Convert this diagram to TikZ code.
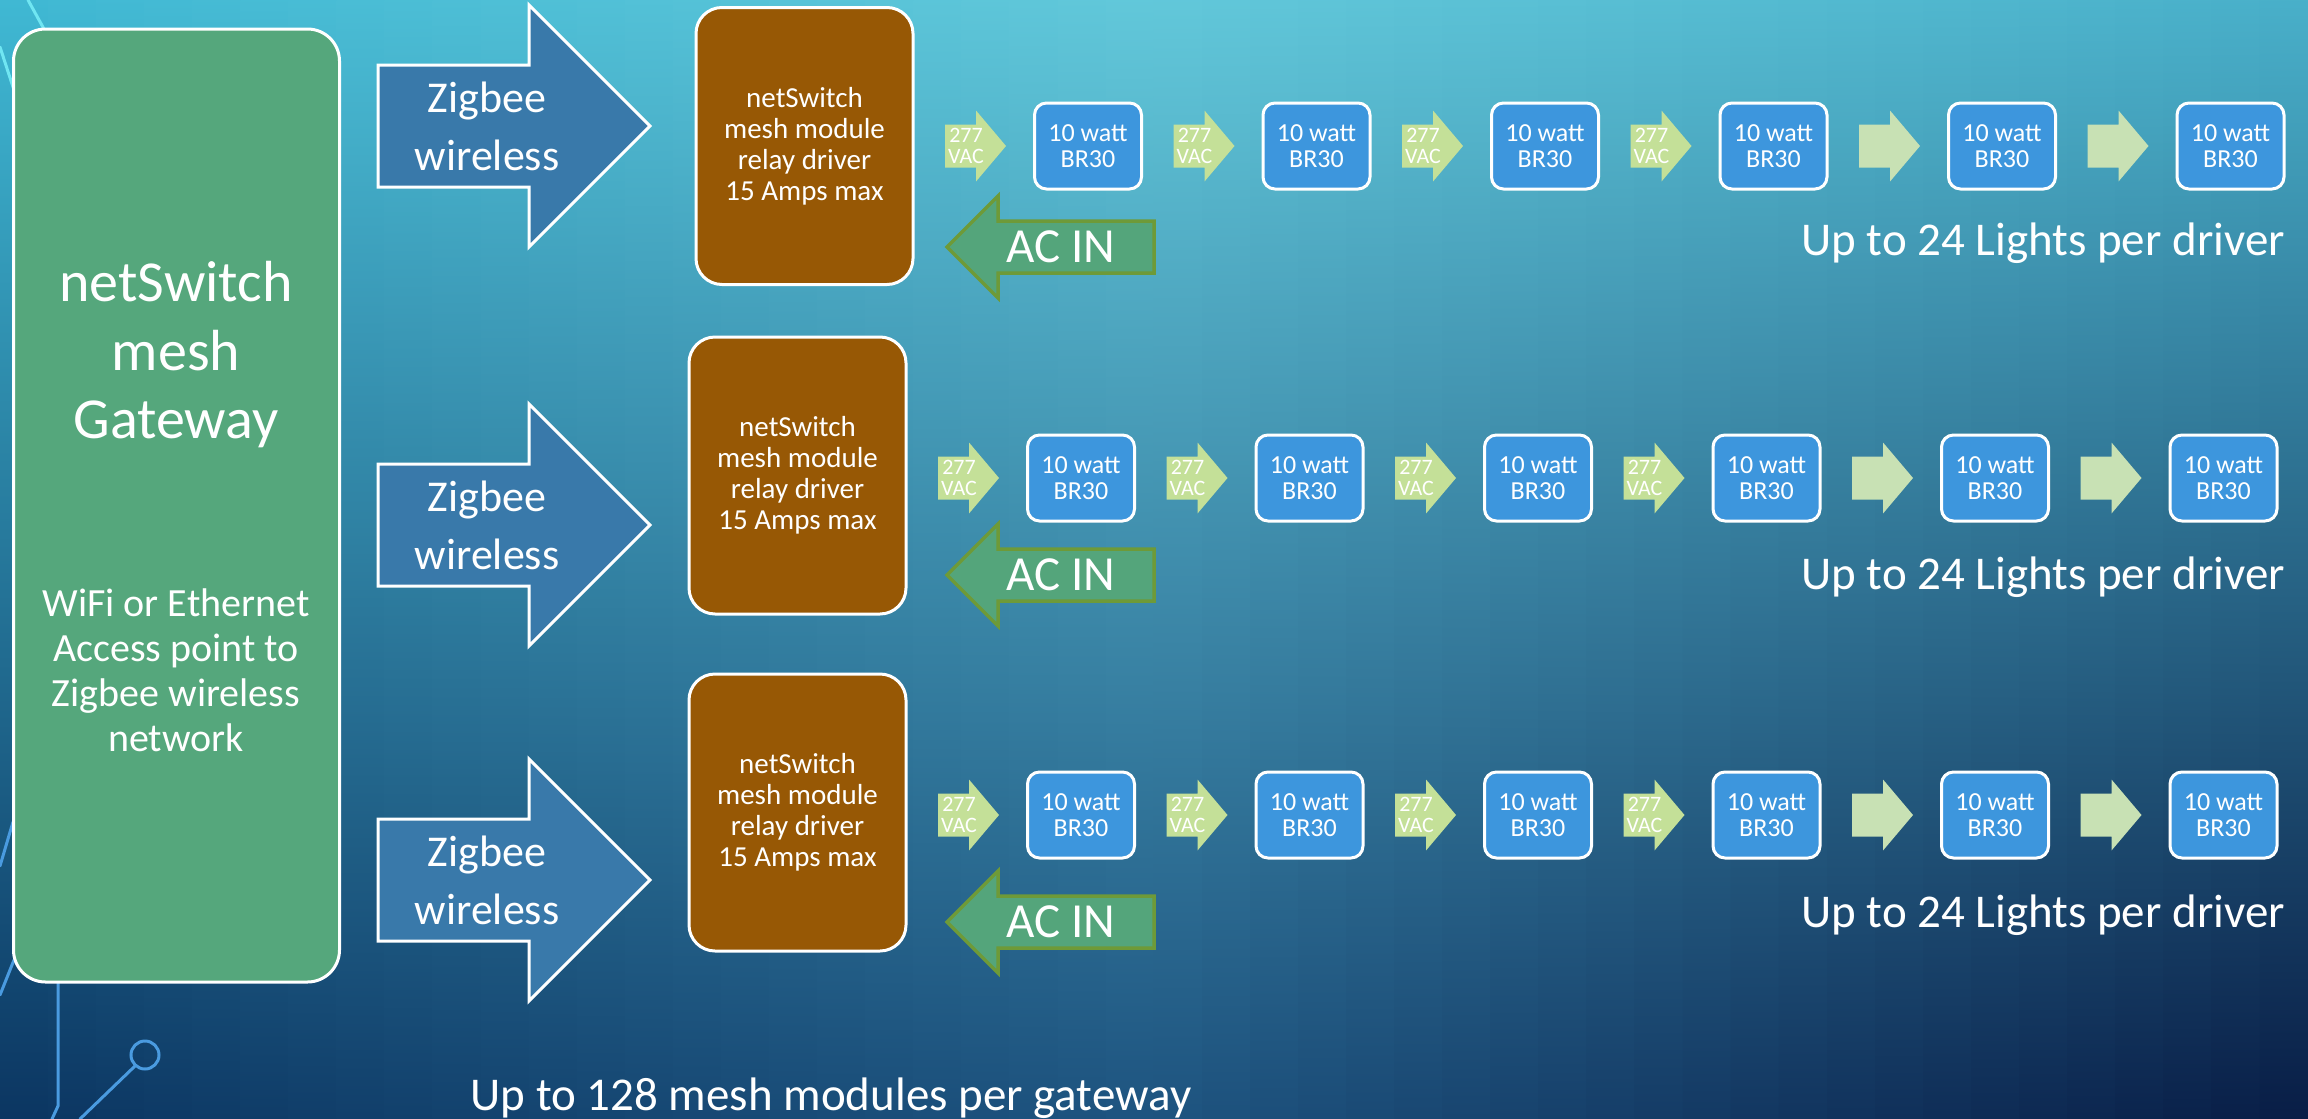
\documentclass[tikz,border=0pt]{standalone}
\usepackage{fontspec}
\setmainfont{Carlito}

\definecolor{gatewaygreen}{RGB}{85,167,124}
\definecolor{driverbrown}{RGB}{151,88,5}
\definecolor{zigblue}{RGB}{57,121,170}
\definecolor{lampblue}{RGB}{61,150,221}
\definecolor{vacgreen}{RGB}{196,224,152}
\definecolor{palegreen}{RGB}{200,225,180}
\definecolor{acgreen}{RGB}{84,165,123}
\definecolor{acolive}{RGB}{110,154,56}
\definecolor{circcyan}{RGB}{112,230,242}
\definecolor{circblue}{RGB}{74,155,224}
% background: left / centre / right columns, top / middle / bottom
\definecolor{bgL1}{RGB}{63,184,211}
\definecolor{bgL2}{RGB}{42,149,186}
\definecolor{bgL3}{RGB}{11,53,97}
\definecolor{bgC1}{RGB}{98,200,218}
\definecolor{bgC2}{RGB}{75,174,203}
\definecolor{bgC3}{RGB}{30,84,128}
\definecolor{bgR1}{RGB}{72,175,201}
\definecolor{bgR2}{RGB}{53,144,176}
\definecolor{bgR3}{RGB}{8,28,69}

\tikzset{
	circuit/.style={line width=3pt, line cap=round},
	gatewaybox/.style={draw=white, line width=3pt, fill=gatewaygreen, rounded corners=32pt,
		minimum width=326pt, minimum height=953pt},
	driverbox/.style={draw=white, line width=3pt, fill=driverbrown, rounded corners=26pt,
		minimum width=217pt, minimum height=277pt, text=white, align=center,
		font=\fontsize{29}{31}\selectfont},
	lampbox/.style={draw=white, line width=3pt, fill=lampblue, rounded corners=12pt,
		minimum width=107pt, minimum height=86pt, text=white, align=center,
		font=\fontsize{26}{26}\selectfont},
	whitetext/.style={text=white, align=center, inner sep=0pt},
	zigtext/.style={whitetext, font=\fontsize{44}{58}\selectfont},
	vactext/.style={whitetext, font=\fontsize{22}{21}\selectfont},
	actext/.style={whitetext, font=\fontsize{49}{49}\selectfont},
	notetext/.style={whitetext, font=\fontsize{47}{56}\selectfont},
	zigarrow/.pic={\draw[white, line width=3pt, fill=zigblue] (0,-61) -- (151,-61) -- (151,-121)
		-- (272,0) -- (151,121) -- (151,61) -- (0,61) -- cycle;},
	feedarrow/.pic={\fill[#1] (0,-21.5) -- (31,-21.5) -- (31,-35.5) -- (61,0) -- (31,35.5)
		-- (31,21.5) -- (0,21.5) -- cycle;},
	acarrow/.pic={\draw[acolive, line width=3.5pt, fill=acgreen] (0,0) -- (51,-51) -- (51,-26)
		-- (207,-26) -- (207,26) -- (51,26) -- (51,51) -- cycle;}
}

\begin{document}
\begin{tikzpicture}[x=1pt,y=-1pt]
	\useasboundingbox (0,0) rectangle (2308,1119);
	\begin{scope}
		\clip (0,0) rectangle (2308,1119);
		\foreach \i in {0,...,47}{
			\pgfmathsetmacro\xc{(\i+0.5)/48}
			\pgfmathsetmacro\p{\xc<0.5 ? 200*\xc : 200*(1-\xc)}
			\ifdim\xc pt<0.5pt \def\side{L}\else\def\side{R}\fi
			\shade[top color=bgC1!\p!bg\side1, middle color=bgC2!\p!bg\side2,
				bottom color=bgC3!\p!bg\side3] (48.08*\i,0) rectangle (48.08*\i+49,1119);
		}
	\end{scope}
	% circuit traces
	\draw[circuit, circcyan] (28,0) -- (44,29);
	\draw[circuit, circcyan] (0,47) -- (14,90);
	\draw[circuit, circblue] (0,866) -- (13,822);
	\draw[circuit, circblue] (14,960) -- (0,995);
	\draw[circuit, circblue] (58,982) -- (58,1106) -- (52,1119);
	\draw[circuit, circblue] (80,1119) -- (135,1066);
	\draw[circuit, circblue] (145,1055) circle [radius=14pt];

	\node[gatewaybox] (gw) at (176.5,505.5) {};
	\node[whitetext, font=\fontsize{58}{68.5}\selectfont] (gwtitle) at (176,355) {netSwitch\\mesh\\Gateway};
	\node[whitetext, font=\fontsize{40}{45}\selectfont] (gwnote) at (176,670) {WiFi or Ethernet\\Access point to\\Zigbee wireless\\network};

	\foreach \r/\ry/\dx/\by/\zy/\acy/\cy in {1/146/7/146/126/247/255, 2/478/0/475.5/525/575/589, 3/815/0/812.5/880/922/927}{
		\pic at (378,\zy) {zigarrow};
		\node[zigtext] (zig\r) at (487,\zy) {Zigbee\\wireless};
		\node[driverbox] (drv\r) at (797.5+\dx,\by) {netSwitch\\mesh module\\relay driver\\15 Amps max};
		\pic at (947,\acy) {acarrow};
		\node[actext] (acin\r) at (1061,\acy) {AC IN};
		\foreach \k in {0,...,5}{
			\node[lampbox] (lamp\r-\k) at (1081+\dx+228.5*\k,\ry) {10 watt\\BR30};
			\ifnum\k<4
				\pic at (938+\dx+228.5*\k,\ry) {feedarrow=vacgreen};
				\node[vactext] (vac\r-\k) at (959+\dx+228.5*\k,\ry) {277\\VAC};
			\else
				\pic at (938+\dx+228.5*\k,\ry) {feedarrow=palegreen};
			\fi
		}
		\node[notetext, anchor=base east] (lights\r) at (2285,\cy) {Up to 24 Lights per driver};
	}
	\node[notetext, anchor=base] (total) at (831,1110) {Up to 128 mesh modules per gateway};
\end{tikzpicture}
\end{document}
